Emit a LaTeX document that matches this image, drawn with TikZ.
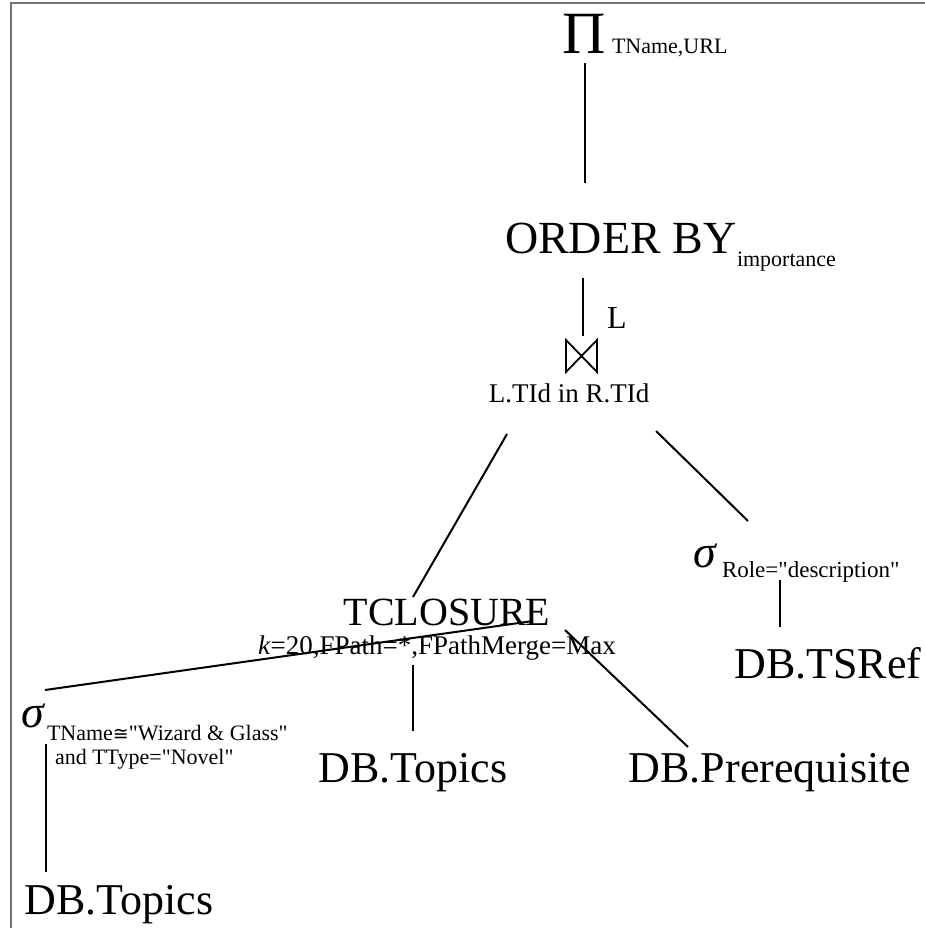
\documentclass[tikz,border=0pt]{standalone}
\usepackage{fontspec}
\setmainfont{Liberation Serif}
\newfontfamily\mathsymfont{DejaVu Sans}
\newcommand{\fsz}[1]{\fontsize{#1}{#1}\selectfont}
\newcommand{\qq}{\textquotedbl}
\begin{document}
\begin{tikzpicture}[x=1pt,y=-1pt,
  lbl/.style={inner sep=0pt,outer sep=0pt},
  big/.style={lbl,font=\fsz{44}},
  sub/.style={lbl,font=\fsz{22},anchor=west},
  op/.style={lbl,font=\fsz{46}\itshape},
  edge/.style={line width=2pt},
  frame/.style={line width=2pt,draw=black!55}]
\useasboundingbox (0,0) rectangle (925,928);
\draw[frame] (11,928) -- (11,3) -- (925,3);

% projection
\node[lbl,font=\fsz{60}] (pi) at (584,34) {Π};
\node[sub] (pisub) at (612,48) {TName,URL};

% ordering
\node[lbl,font=\fsz{46},anchor=west] (order) at (505,238) {ORDER BY};
\node[sub] (ordersub) at (737,262) {importance};

% semijoin
\node[lbl,font=\fsz{32}] (lside) at (617,318) {L};
\node[lbl,minimum width=31pt,minimum height=32pt] (join) at (581.5,356) {};
\draw[line width=1.8pt,line join=miter]
  (join.north west) -- (join.south east) -- (join.north east)
  -- (join.south west) -- cycle;
\node[lbl,font=\fsz{27}] (cond) at (569,393) {L.TId in R.TId};

% transitive closure
\node[lbl,font=\fsz{40}] (tc) at (447,612) {TCLOSURE};
\node[lbl,font=\fsz{27}] (tcargs) at (437,648) {\textit{k}=20,FPath=*,FPathMerge=Max};

% selection on TSRef
\node[op] (selR) at (705,556) {σ};
\node[sub,font=\fsz{23}] (selRsub) at (722,572) {Role=\qq description\qq};
\node[big] (tsref) at (828,663) {DB.TSRef};

% selection on Topics
\node[op] (selL) at (33,716) {σ};
\node[sub,font=\fsz{22}] (selLsub1) at (47,733) {TName{\mathsymfont\fontsize{19}{19}\selectfont ≅}\qq Wizard \& Glass\qq};
\node[sub,font=\fsz{22}] (selLsub2) at (55,759) {and TType=\qq Novel\qq};

% base relations
\node[big] (topicsM) at (413,773) {DB.Topics};
\node[big] (prereq) at (770,773) {DB.Prerequisite};
\node[big] (topicsL) at (119,905) {DB.Topics};

% connector end points
\coordinate (pi-b) at (585,63);
\coordinate (order-t) at (585,183);
\coordinate (order-b) at (583,278);
\coordinate (join-t) at (583,336);
\coordinate (cond-l) at (507,434);
\coordinate (cond-r) at (656,431);
\coordinate (tc-t) at (413,597);
\coordinate (selR-t) at (748,521);
\coordinate (selR-b) at (780,580);
\coordinate (tsref-t) at (780,627);
\coordinate (tc-l) at (533,621);
\coordinate (selL-t) at (45,690);
\coordinate (tc-b) at (413,665);
\coordinate (topicsM-t) at (413,731);
\coordinate (tc-r) at (565,630);
\coordinate (prereq-t) at (688,747);
\coordinate (selL-b) at (46,744);
\coordinate (topicsL-t) at (46,872);

\draw[edge] (pi-b) -- (order-t);
\draw[edge] (order-b) -- (join-t);
\draw[edge] (cond-l) -- (tc-t);
\draw[edge] (cond-r) -- (selR-t);
\draw[edge] (selR-b) -- (tsref-t);
\draw[edge] (tc-l) -- (selL-t);
\draw[edge] (tc-b) -- (topicsM-t);
\draw[edge] (tc-r) -- (prereq-t);
\draw[edge] (selL-b) -- (topicsL-t);
\end{tikzpicture}
\end{document}
